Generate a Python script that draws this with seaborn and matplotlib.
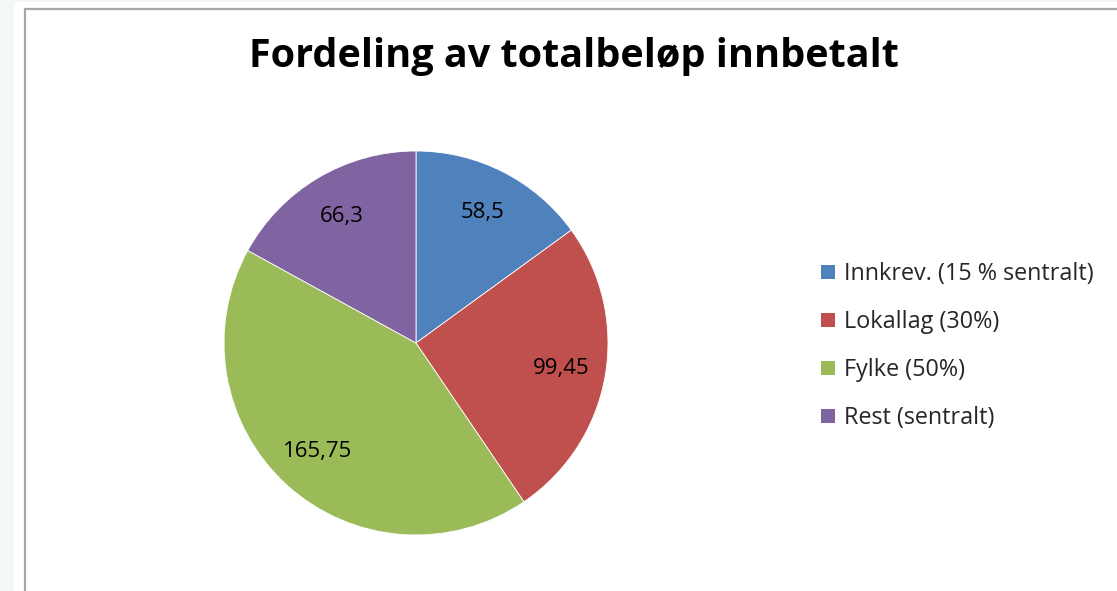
import matplotlib
matplotlib.use("Agg")
import matplotlib.pyplot as plt
from matplotlib.patches import Rectangle
import seaborn as sns

title = "Fordeling av totalbeløp innbetalt"
categories = ["Innkrev. (15 % sentralt)", "Lokallag (30%)", "Fylke (50%)", "Rest (sentralt)"]
values = [58.5, 99.45, 165.75, 66.3]
colors = ["#4F81BD", "#C0504D", "#9BBB59", "#8064A2"]

sns.set_theme(style="white")
plt.rcParams['font.family'] = ['Open Sans', 'DejaVu Sans']

W, H = 1117, 591
fig = plt.figure(figsize=(W / 100, H / 100), dpi=100)
fig.patch.set_facecolor("#f3f7f8")

# white chart page + grey chart border (runs off right/bottom)
fig.patches.append(Rectangle((14 / W, 0), 1, (H - 2) / H, transform=fig.transFigure,
                             facecolor="white", edgecolor="none", zorder=-2))
fig.patches.append(Rectangle((24.5 / W, -0.05), 1.1, (H - 9) / H + 0.05, transform=fig.transFigure,
                             facecolor="none", edgecolor="#a6a6a6", linewidth=1.6, zorder=-1))

cx, cy, r = 416, 343, 192
ax = fig.add_axes([(cx - r) / W, (H - cy - r) / H, 2 * r / W, 2 * r / H])
ax.set_zorder(2)
ax.patch.set_alpha(0)
total = sum(values)

def fmt(p):
    return f"{p * total / 100:.2f}".rstrip("0").rstrip(".").replace(".", ",")

wedges, texts, autotexts = ax.pie(
    values, colors=colors, startangle=90, counterclock=False,
    autopct=fmt, pctdistance=0.765, radius=1,
    wedgeprops=dict(edgecolor="white", linewidth=0.6),
    textprops=dict(fontsize=16, color="black"),
)
ax.set_xlim(-1, 1)
ax.set_ylim(-1, 1)
ax.set_aspect("equal")
ax.axis("off")

fig.text(574 / W, 1 - 57 / H, title, ha="center", va="center",
         fontsize=28.5, fontweight="bold", color="black")

leg = fig.legend(wedges, categories, loc="upper left",
                 bbox_to_anchor=(812 / W, 1 - 253 / H),
                 frameon=False, fontsize=16.8, handlelength=0.58, handleheight=0.58,
                 handletextpad=0.38, labelspacing=1.03, borderaxespad=0)
for h in leg.legend_handles:
    h.set_edgecolor("none")

fig.savefig("out.png", dpi=100, facecolor=fig.get_facecolor())
